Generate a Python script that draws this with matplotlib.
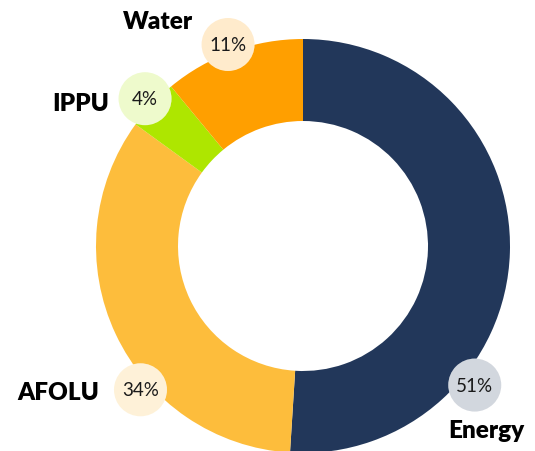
import matplotlib.pyplot as plt
from matplotlib.patches import Circle
import numpy as np

sectors = ['Energy', 'AFOLU', 'IPPU', 'Water']
shares = [51, 34, 4, 11]
colors = ['#22375a', '#fdbd3c', '#aee600', '#ff9f00']

# layout (pixel coords of the 535x452 image, y from top)
W, H = 535, 452
cx, cy, R, r_in = 303, 247, 207, 125
badge_angle = [129, 228.5, 313, 339.6]   # deg clockwise from top
badge_dist = [221, 217, 216, 215]
name_pos = [(486, 431), (58, 393), (81, 104), (158, 22)]

fig = plt.figure(figsize=(W / 100, H / 100), dpi=100)
ax = fig.add_axes([0, 0, 1, 1])
ax.axis('off')

ax.pie(shares, colors=colors, startangle=90, counterclock=False,
       radius=R, center=(cx, H - cy),
       wedgeprops=dict(width=R - r_in, linewidth=0))
ax.set_xlim(0, W)
ax.set_ylim(0, H)
ax.set_aspect('equal')

for name, v, c, a, d, (tx, ty) in zip(sectors, shares, colors, badge_angle, badge_dist, name_pos):
    t = np.deg2rad(a)
    bx = cx + d * np.sin(t)
    by = H - (cy - d * np.cos(t))
    ax.add_patch(Circle((bx, by), 26.5, facecolor='white', linewidth=0, zorder=2))
    ax.add_patch(Circle((bx, by), 26.5, facecolor=c, alpha=0.2, linewidth=0, zorder=3))
    ax.text(bx, by, f'{v}%', ha='center', va='center', fontsize=13.5,
            family='Lato', fontweight='normal', color='#1a1a1a', zorder=4)
    ax.text(tx, H - ty, name, ha='center', va='center', fontsize=17.5,
            family='Lato', fontweight='heavy', color='black', zorder=4)

fig.savefig('out.png', dpi=100)
